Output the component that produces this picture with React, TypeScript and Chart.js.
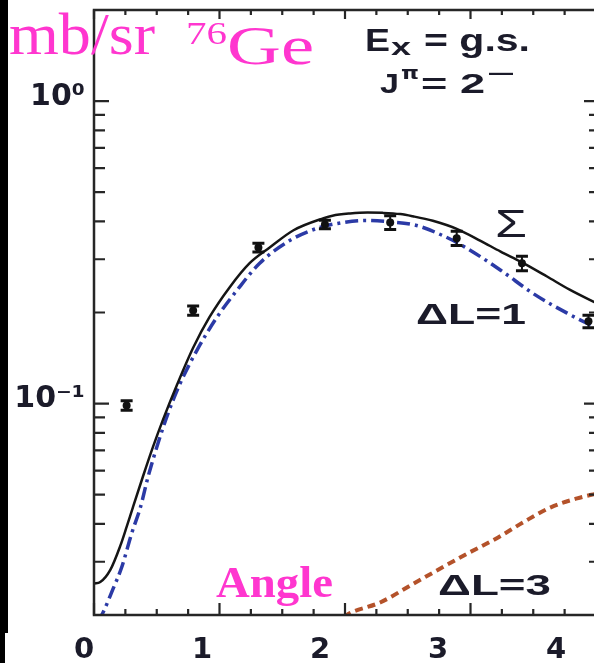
import { useEffect, useRef } from 'react';
import { Chart, registerables } from 'chart.js';

Chart.register(...registerables);

// Measured angular distribution (mb/sr) with uncertainties
const angles = [0.26, 0.79, 1.31, 1.84, 2.36, 2.89, 3.41, 3.94];
const crossSections = [0.0986, 0.203, 0.328, 0.391, 0.397, 0.352, 0.291, 0.187];
const crossSectionErrors = [0.0035, 0.007, 0.011, 0.013, 0.021, 0.019, 0.016, 0.009];

// Calculated sum of the multipole components
const sumAngles = [0, 0.05, 0.13, 0.21, 0.26, 0.31, 0.39, 0.47, 0.55, 0.66, 0.79, 0.92, 1.08, 1.24, 1.4, 1.59, 1.83, 1.9, 2.04, 2.18, 2.3, 2.44, 2.54, 2.7, 2.89, 3.08, 3.24, 3.41, 3.61, 3.79, 4.0];
const sumValues = [0.0254, 0.0257, 0.0282, 0.0339, 0.0391, 0.0454, 0.0574, 0.0719, 0.0885, 0.115, 0.153, 0.193, 0.242, 0.291, 0.328, 0.374, 0.41, 0.418, 0.425, 0.428, 0.427, 0.423, 0.416, 0.402, 0.378, 0.345, 0.318, 0.293, 0.263, 0.238, 0.215];

// Delta L = 1 component
const dl1Angles = [0.03, 0.07, 0.15, 0.22, 0.3, 0.37, 0.43, 0.51, 0.59, 0.68, 0.82, 0.98, 1.14, 1.32, 1.56, 1.78, 1.94, 2.16, 2.32, 2.57, 2.78, 2.94, 3.24, 3.5, 3.77, 4.0];
const dl1Values = [0.019, 0.0203, 0.0243, 0.0287, 0.0372, 0.0454, 0.0571, 0.0739, 0.0928, 0.115, 0.15, 0.193, 0.237, 0.291, 0.346, 0.38, 0.394, 0.403, 0.4, 0.388, 0.359, 0.332, 0.276, 0.231, 0.199, 0.178];

// Delta L = 3 component
const dl3Angles = [1.99, 2.04, 2.28, 2.54, 2.76, 2.98, 3.22, 3.42, 3.64, 3.85, 3.98, 4.0];
const dl3Values = [0.0197, 0.0203, 0.022, 0.0253, 0.0285, 0.032, 0.0361, 0.0405, 0.0454, 0.0486, 0.0501, 0.0503];

// Axis labels
const xTickLabels = [0, 1, 2, 3, 4];
const yLabelledTicks = [0.1, 1];
const yLabelTexts = ['10⁻¹', '10⁰'];

const PINK = '#ff36cf';
const INK = '#1b1b2a';
const FRAME = '#262626';

type Note = { text: string; left: number; base: number; font: string; width: number; color: string };

const notes: Note[] = [
  { text: 'E', left: 365, base: 51, font: 'bold 31px "Liberation Sans"', width: 25, color: INK },
  { text: 'x', left: 391, base: 55, font: 'bold 23px "Liberation Sans"', width: 20, color: INK },
  { text: '= g.s.', left: 424, base: 51, font: 'bold 31px "Liberation Sans"', width: 106, color: INK },
  { text: 'J', left: 380, base: 93, font: 'bold 28px "Liberation Sans"', width: 19, color: INK },
  { text: 'π', left: 401, base: 79, font: 'bold 18px "DejaVu Sans"', width: 18, color: INK },
  { text: '= 2', left: 421, base: 93, font: 'bold 28px "Liberation Sans"', width: 64, color: INK },
  { text: '—', left: 489, base: 80, font: 'bold 22px "Liberation Sans"', width: 24, color: INK },
  { text: 'Σ', left: 495, base: 237, font: '38px "Liberation Sans"', width: 32, color: INK },
  { text: 'ΔL=1', left: 416, base: 324, font: 'bold 30px "Liberation Sans"', width: 110, color: INK },
  { text: 'ΔL=3', left: 438, base: 595, font: 'bold 30px "Liberation Sans"', width: 113, color: INK },
  { text: 'mb/sr', left: 9, base: 54, font: '60px "Liberation Serif"', width: 146, color: PINK },
  { text: '76', left: 186, base: 44, font: '31px "Liberation Serif"', width: 41, color: PINK },
  { text: 'Ge', left: 227, base: 64, font: '55px "Liberation Serif"', width: 87, color: PINK },
  { text: 'Angle', left: 216, base: 597, font: 'bold 44px "Liberation Serif"', width: 117, color: PINK },
];

function drawNote(ctx: CanvasRenderingContext2D, n: Note) {
  ctx.save();
  ctx.font = n.font;
  ctx.fillStyle = n.color;
  ctx.textAlign = 'left';
  ctx.textBaseline = 'alphabetic';
  const w = ctx.measureText(n.text).width || 1;
  ctx.translate(n.left, n.base);
  ctx.scale(n.width / w, 1);
  ctx.fillText(n.text, 0, 0);
  ctx.restore();
}

const decorations = {
  id: 'decorations',
  beforeDraw(chart: any) {
    const { ctx, width, height } = chart;
    ctx.save();
    ctx.fillStyle = '#ffffff';
    ctx.fillRect(0, 0, width, height);
    ctx.fillStyle = '#000000';
    ctx.fillRect(0, 0, 8, 633);
    ctx.fillRect(0, 633, 5, height - 633);
    ctx.restore();
  },
  afterDatasetsDraw(chart: any) {
    const { ctx } = chart;
    const xs = chart.scales.x;
    const ys = chart.scales.y;
    ctx.save();
    ctx.strokeStyle = '#111111';
    angles.forEach((a, i) => {
      const px = xs.getPixelForValue(a);
      const top = ys.getPixelForValue(crossSections[i] + crossSectionErrors[i]);
      const bot = ys.getPixelForValue(crossSections[i] - crossSectionErrors[i]);
      ctx.lineWidth = 2;
      ctx.beginPath();
      ctx.moveTo(px, top);
      ctx.lineTo(px, bot);
      ctx.stroke();
      ctx.lineWidth = 3;
      ctx.beginPath();
      ctx.moveTo(px - 6, top);
      ctx.lineTo(px + 6, top);
      ctx.moveTo(px - 6, bot);
      ctx.lineTo(px + 6, bot);
      ctx.stroke();
    });
    ctx.restore();
  },
  afterDraw(chart: any) {
    const { ctx, chartArea } = chart;
    const { left, right, top, bottom } = chartArea;
    const xs = chart.scales.x;
    const ys = chart.scales.y;
    ctx.save();
    ctx.strokeStyle = FRAME;
    ctx.lineWidth = 2.5;
    ctx.strokeRect(left, top, right - left, bottom - top);

    // inward tick marks along the angle axis
    ctx.lineWidth = 2.2;
    for (let k = 0; k <= 16; k++) {
      const v = k * 0.25;
      const px = xs.getPixelForValue(v);
      const major = k % 4 === 0;
      ctx.beginPath();
      ctx.moveTo(px, bottom);
      ctx.lineTo(px, bottom - (major ? 12 : 6));
      ctx.moveTo(px, top);
      ctx.lineTo(px, top + (major ? 9 : 5));
      ctx.stroke();
    }
    // inward tick marks along the logarithmic axis
    for (let d = -2; d <= 0; d++) {
      for (let m = 1; m <= 9; m++) {
        const v = m * Math.pow(10, d);
        if (v < ys.min * 0.999 || v > ys.max * 1.001) continue;
        const py = ys.getPixelForValue(v);
        const major = m === 1;
        ctx.beginPath();
        ctx.moveTo(left, py);
        ctx.lineTo(left + (major ? 15 : 11), py);
        ctx.moveTo(right, py);
        ctx.lineTo(right - (major ? 12 : 7), py);
        ctx.stroke();
      }
    }
    ctx.restore();

    notes.forEach((n) => drawNote(ctx, n));
  },
};

export default function App() {
  const canvasRef = useRef<HTMLCanvasElement | null>(null);

  useEffect(() => {
    const canvas = canvasRef.current;
    if (!canvas) return;
    const pts = (xs: number[], ys: number[]) => xs.map((x, i) => ({ x, y: ys[i] }));

    const chart = new Chart(canvas, {
      type: 'line',
      data: {
        datasets: [
          {
            label: 'data',
            data: pts(angles, crossSections),
            showLine: false,
            pointRadius: 4,
            pointBackgroundColor: '#111111',
            pointBorderColor: '#111111',
            pointBorderWidth: 0,
          },
          {
            label: 'Σ',
            data: pts(sumAngles, sumValues),
            borderColor: '#151515',
            borderWidth: 2.5,
            pointRadius: 0,
            cubicInterpolationMode: 'monotone',
          },
          {
            label: 'ΔL=1',
            data: pts(dl1Angles, dl1Values),
            borderColor: '#2b3aa6',
            borderWidth: 3.5,
            borderDash: [13, 5, 3, 5],
            pointRadius: 0,
            cubicInterpolationMode: 'monotone',
          },
          {
            label: 'ΔL=3',
            data: pts(dl3Angles, dl3Values),
            borderColor: '#b4522a',
            borderWidth: 4,
            borderDash: [8, 5],
            pointRadius: 0,
            cubicInterpolationMode: 'monotone',
          },
        ],
      },
      options: {
        responsive: false,
        maintainAspectRatio: false,
        devicePixelRatio: 1,
        animation: false,
        layout: { padding: { top: 10, right: 4, left: 0, bottom: 0 } },
        plugins: { legend: { display: false }, tooltip: { enabled: false } },
        scales: {
          x: { type: 'linear', min: 0, max: 4, display: false },
          xLabels: {
            type: 'linear',
            position: 'bottom',
            min: 10 / 118,
            max: 10 / 118 + 502 / 118,
            afterBuildTicks: (scale: any) => {
              scale.ticks = xTickLabels.map((v) => ({ value: v }));
            },
            afterFit: (scale: any) => {
              scale.height = 48;
              scale.paddingLeft = 0;
              scale.paddingRight = 0;
            },
            grid: { display: false, drawTicks: false },
            border: { display: false },
            ticks: {
              autoSkip: false,
              maxRotation: 0,
              padding: 18,
              color: INK,
              font: { family: 'DejaVu Sans', size: 29, weight: 'bold' },
              callback: (v: any) => String(v),
            },
          },
          y: {
            type: 'logarithmic',
            position: 'left',
            min: 0.02,
            max: 2,
            afterFit: (scale: any) => {
              scale.width = 94;
              scale.paddingTop = 0;
              scale.paddingBottom = 0;
            },
            grid: { display: false, drawTicks: false },
            border: { display: false },
            ticks: {
              autoSkip: false,
              padding: 9,
              labelOffset: -4,
              color: INK,
              font: { family: 'DejaVu Sans', size: 30, weight: 'bold' },
              callback: (v: any) => {
                const idx = yLabelledTicks.findIndex((t) => Math.abs(Number(v) - t) < t * 1e-6);
                return idx >= 0 ? yLabelTexts[idx] : '';
              },
            },
          },
        },
      } as any,
      plugins: [decorations],
    });

    return () => chart.destroy();
  }, []);

  return (
    <div
      style={{
        position: 'fixed',
        left: 0,
        top: 0,
        width: 594,
        height: 663,
        overflow: 'hidden',
        background: '#ffffff',
      }}
    >
      <canvas ref={canvasRef} width={600} height={663} style={{ display: 'block' }} />
    </div>
  );
}
